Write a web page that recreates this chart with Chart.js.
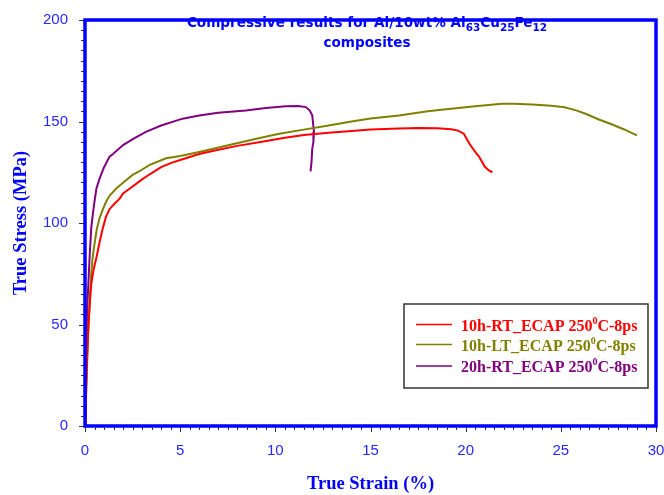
<!DOCTYPE html>
<html>
<head>
<meta charset="utf-8">
<script src="https://cdn.jsdelivr.net/npm/chart.js@4.4.1/dist/chart.umd.min.js"></script>
<style>
html,body{margin:0;padding:0;background:#fff;}
canvas{display:block;}
</style>
</head>
<body>
<canvas id="c" width="664" height="495"></canvas>
<script>
// ---- data ----
const seriesLabels = ["10h-RT_ECAP 250\u2070C-8ps", "10h-LT_ECAP 250\u2070C-8ps", "20h-RT_ECAP 250\u2070C-8ps"];
const seriesColors = ["#ff0000", "#808000", "#800080"];

const redX = [0,0.05,0.1,0.16,0.25,0.33,0.45,0.6,0.8,0.94,1.1,1.29,1.5,1.82,2.0,2.5,3.0,3.4,4.0,4.5,5.0,6.0,6.7,8.0,9.3,10.5,11.5,12.8,14,15,16.5,17.5,18.5,19.25,19.6,19.9,20.2,20.5,20.7,21.0,21.2,21.4];
const redY = [0,15,30,46,60,70,77,83,92,97.6,103,106.8,109,112,114.5,118,121.5,124,127.5,129.5,131,134,135.5,138,140,142,143.3,144.4,145.3,146,146.5,146.8,146.7,146.2,145.5,144,139,135,132.7,127.8,126,125];

const oliveX = [0,0.05,0.1,0.15,0.21,0.27,0.33,0.4,0.5,0.62,0.77,0.95,1.12,1.3,1.64,2.0,2.5,2.86,3.4,4.26,5.0,6.0,7.58,9.0,10.2,11.5,12.8,14.0,15.0,16.5,18.0,19.1,20.5,21.9,22.5,23.5,24.5,25.2,25.8,26.3,27.0,27.6,28.3,29.0];
const oliveY = [0,12,29,42,54,66,75,83,89.7,97,102.6,107,110.7,113.5,117,119.8,123.7,125.5,128.6,131.9,133,135,138.4,141.5,144,146,148,150,151.5,153,155,156.2,157.5,158.7,158.8,158.4,157.7,157,155.5,153.8,151,148.9,146.2,143.2];

const purpleX = [0,0.03,0.07,0.1,0.16,0.25,0.33,0.42,0.5,0.6,0.77,1.0,1.29,1.47,2.0,2.6,3.2,4.0,5.13,6.0,7.0,8.45,9.5,10.55,11.2,11.6,11.8,11.94,12.03,12.0,11.94,11.9,11.85];
const purpleY = [0,12,29,54,66.8,84.7,97.7,105,110.7,117,122,127.5,132.7,134,138.4,141.8,144.9,148,151.4,153,154.3,155.4,156.6,157.5,157.6,157.1,155.5,153,144.9,140,136.7,130,125.4];

const xTickValues = [0,5,10,15,20,25,30];
const yTickValues = [0,50,100,150,200];
const titleLine1 = [["Compressive results for Al/10wt% Al",0],["63",1],["Cu",0],["25",1],["Fe",0],["12",1]];
const titleLine2 = "composites";
const xTitle = "True Strain (%)";
const yTitle = "True Stress (MPa)";

function pts(xs, ys){ return xs.map((x,i)=>({x:x,y:ys[i]})); }

const BLUE = "#0000ff";

const framePlugin = {
  id:'frame',
  afterDraw(chart){
    const ctx = chart.ctx, a = chart.chartArea;
    const xs = chart.scales.x, ys = chart.scales.y;
    ctx.save();
    // tick marks (major + minor) via scales
    ctx.strokeStyle = "#333";
    ctx.lineWidth = 1;
    for (let v = 0; v <= 30.0001; v += 0.5) {
      const px = Math.round(xs.getPixelForValue(v)) + 0.5;
      const major = Math.abs(v/5 - Math.round(v/5)) < 1e-6;
      ctx.beginPath(); ctx.moveTo(px, a.bottom); ctx.lineTo(px, a.bottom + (major?6:4)); ctx.stroke();
    }
    for (let v = 0; v <= 200.0001; v += 5) {
      const py = Math.round(ys.getPixelForValue(v)) + 0.5;
      const major = v % 50 === 0;
      ctx.beginPath(); ctx.moveTo(a.left, py); ctx.lineTo(a.left - (major?6:4), py); ctx.stroke();
    }
    // title
    ctx.fillStyle = BLUE;
    ctx.textBaseline = 'alphabetic';
    const big = "bold 13.6px 'DejaVu Sans'", small = "bold 10.5px 'DejaVu Sans'";
    let w = 0;
    titleLine1.forEach(p=>{ ctx.font = p[1]?small:big; w += ctx.measureText(p[0]).width; });
    const cx = 367;
    let x = cx - w/2;
    titleLine1.forEach(p=>{
      ctx.font = p[1]?small:big;
      ctx.fillText(p[0], x, p[1]?31:27);
      x += ctx.measureText(p[0]).width;
    });
    ctx.font = big; ctx.textAlign = 'center';
    ctx.fillText(titleLine2, cx, 47);
    ctx.textAlign = 'left';
    // frame
    ctx.strokeStyle = BLUE; ctx.lineWidth = 3.5;
    ctx.strokeRect(a.left, a.top, a.right - a.left, a.bottom - a.top);
    // legend
    ctx.fillStyle = "#fff";
    ctx.fillRect(404, 304, 244, 84);
    ctx.strokeStyle = "#333"; ctx.lineWidth = 1.5;
    ctx.strokeRect(404, 304, 244, 84);
    const rows = [324.5, 344.5, 366];
    const lf = "bold 16px 'Liberation Serif'", sf = "bold 10px 'Liberation Serif'";
    ctx.textBaseline = 'alphabetic';
    chart.data.datasets.forEach((ds,i)=>{
      ctx.strokeStyle = ds.borderColor; ctx.lineWidth = 1.5;
      ctx.beginPath(); ctx.moveTo(416, rows[i]); ctx.lineTo(452, rows[i]); ctx.stroke();
      ctx.fillStyle = ds.borderColor;
      const parts = ds.label.split('\u2070');
      let tx = 461;
      const by = rows[i] + 6;
      parts.forEach((p,j)=>{
        if (j>0){ ctx.font = sf; ctx.fillText('0', tx, by - 7); tx += ctx.measureText('0').width; }
        ctx.font = lf; ctx.fillText(p, tx, by); tx += ctx.measureText(p).width;
      });
    });
    ctx.restore();
  }
};

new Chart(document.getElementById('c'), {
  type: 'scatter',
  data: {
    datasets: [
      {label: seriesLabels[0], data: pts(redX, redY), borderColor: seriesColors[0], backgroundColor: seriesColors[0]},
      {label: seriesLabels[1], data: pts(oliveX, oliveY), borderColor: seriesColors[1], backgroundColor: seriesColors[1]},
      {label: seriesLabels[2], data: pts(purpleX, purpleY), borderColor: seriesColors[2], backgroundColor: seriesColors[2]}
    ].map(d=>Object.assign(d,{showLine:true, pointRadius:0, borderWidth:2, tension:0}))
  },
  options: {
    responsive: false,
    animation: false,
    layout: {padding: {left:0, top:17, right:0, bottom:0}},
    plugins: {legend:{display:false}, tooltip:{enabled:false}, title:{display:false}},
    scales: {
      x: {
        type:'linear', min:0, max:30,
        afterBuildTicks(s){ s.ticks = xTickValues.map(v=>({value:v})); },
        afterFit(s){ s.height = 69; s.paddingRight = 8; s.paddingLeft = 0; },
        grid:{drawOnChartArea:false, drawTicks:true, tickLength:6, color:'transparent'},
        border:{display:false},
        ticks:{color:'#2828ff', font:{family:"'Liberation Sans'", size:15}, padding:10, maxRotation:0},
        title:{display:true, text:xTitle, color:BLUE, font:{family:"'Liberation Serif'", size:18.5, weight:'bold'}, padding:{top:0,bottom:0}}
      },
      y: {
        type:'linear', min:0, max:200,
        afterBuildTicks(s){ s.ticks = yTickValues.map(v=>({value:v})); },
        afterFit(s){ s.width = 85; },
        grid:{drawOnChartArea:false, drawTicks:true, tickLength:6, color:'transparent'},
        border:{display:false},
        ticks:{color:'#2828ff', font:{family:"'Liberation Sans'", size:15}, padding:11},
        title:{display:true, text:yTitle, color:BLUE, font:{family:"'Liberation Serif'", size:18.5, weight:'bold'}, padding:{top:10,bottom:0}}
      }
    }
  },
  plugins:[framePlugin]
});
</script>
</body>
</html>
